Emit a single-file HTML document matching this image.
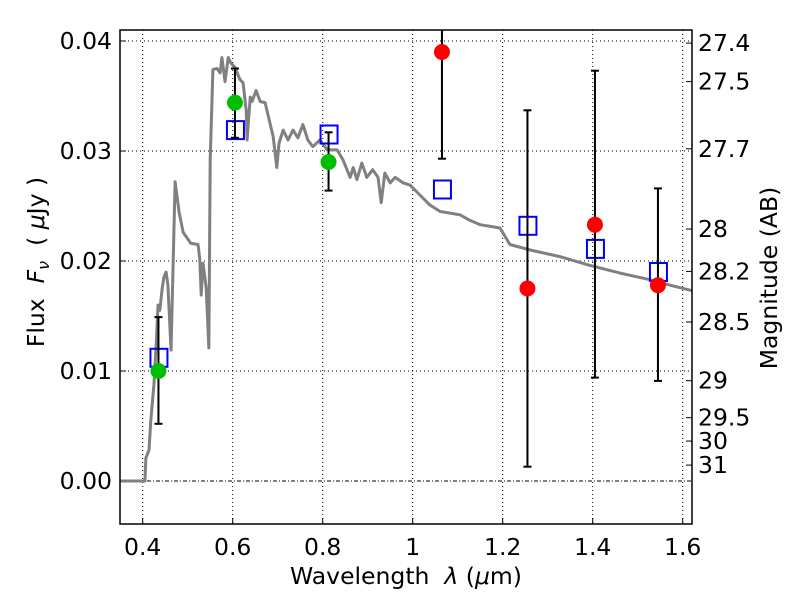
<!DOCTYPE html>
<html><head><meta charset="utf-8"><style>
body{margin:0;background:#fff}
svg{display:block;font-family:"DejaVu Sans","Liberation Sans",sans-serif}
</style></head><body>
<svg id="chart" width="800" height="600" xmlns="http://www.w3.org/2000/svg"></svg>
<script>
const specWave=[0.35,0.405,0.407,0.414,0.418,0.425,0.430,0.434,0.438,0.443,0.447,0.452,0.456,0.463,0.472,0.481,0.490,0.507,0.523,0.527,0.530,0.534,0.541,0.547,0.550,0.556,0.565,0.572,0.576,0.583,0.590,0.596,0.605,0.616,0.623,0.630,0.632,0.639,0.643,0.652,0.661,0.672,0.683,0.690,0.698,0.703,0.712,0.723,0.734,0.745,0.756,0.767,0.778,0.794,0.810,0.832,0.845,0.861,0.868,0.876,0.887,0.898,0.911,0.923,0.930,0.938,0.950,0.961,0.979,0.994,1.016,1.038,1.061,1.105,1.127,1.150,1.194,1.216,1.261,1.327,1.394,1.461,1.527,1.572,1.621];
const specFlux=[0,0,0.0021,0.0028,0.0055,0.0088,0.0124,0.0160,0.0155,0.0174,0.0185,0.0190,0.0178,0.0119,0.0272,0.0244,0.0226,0.0216,0.0215,0.0201,0.0169,0.0198,0.0176,0.0121,0.0292,0.0374,0.0375,0.0371,0.0385,0.0363,0.0385,0.0380,0.0376,0.0365,0.0362,0.0337,0.0310,0.0349,0.0345,0.0355,0.0345,0.0344,0.0325,0.0313,0.0285,0.0307,0.0319,0.0310,0.0319,0.0312,0.0324,0.0310,0.0304,0.0310,0.0301,0.0301,0.0292,0.0276,0.0285,0.0274,0.0289,0.0276,0.0283,0.0276,0.0253,0.0280,0.0271,0.0276,0.0271,0.0269,0.0260,0.0251,0.0245,0.0242,0.0237,0.0233,0.0230,0.0215,0.0210,0.0204,0.0196,0.0189,0.0183,0.0178,0.0173];
const modelWave=[0.435,0.605,0.813,1.065,1.255,1.405,1.545];
const modelFlux=[0.0112,0.0319,0.0315,0.0265,0.0232,0.0211,0.0190];
const greenWave=[0.435,0.605,0.813];
const greenFlux=[0.0100,0.0344,0.0290];
const greenLo=[0.0052,0.0312,0.0264];
const greenHi=[0.0149,0.0375,0.0317];
const redWave=[1.065,1.255,1.405,1.545];
const redFlux=[0.0390,0.0175,0.0233,0.0178];
const redLo=[0.0293,0.0013,0.0094,0.0091];
const redHi=[0.0450,0.0337,0.0373,0.0266];
const xTicks=[0.4,0.6,0.8,1.0,1.2,1.4,1.6];
const xTickLabels=["0.4","0.6","0.8","1","1.2","1.4","1.6"];
const yTicks=[0,0.01,0.02,0.03,0.04];
const yTickLabels=["0.00","0.01","0.02","0.03","0.04"];
const magTicks=[27.4,27.5,27.7,28,28.2,28.5,29,29.5,30,31];
const magLabels=["27.4","27.5","27.7","28","28.2","28.5","29","29.5","30","31"];

const L=120,R=692,T=30,B=524;
const FS=23.5;
const xs=v=>142.7+(v-0.4)*450;
const ys=v=>481-v*11000;
const NS="http://www.w3.org/2000/svg";
const svg=document.getElementById('chart');
function mk(tag,attrs,parent){const e=document.createElementNS(NS,tag);for(const k in attrs)e.setAttribute(k,attrs[k]);(parent||svg).appendChild(e);return e;}

const defs=mk('defs',{});
const cp=mk('clipPath',{id:'clip'},defs);
mk('rect',{x:L,y:T,width:R-L,height:B-T},cp);

xTicks.forEach((t,i)=>{
 const g=mk('line',{x1:xs(t),x2:xs(t),y1:T,y2:B,stroke:'#000','stroke-width':1,'stroke-dasharray':'1,3'});
 
 const tk=mk('line',{x1:xs(t),x2:xs(t),y1:B,y2:B-6,stroke:'#000'});
 
 const tx=mk('text',{x:xs(t),y:B+31,'font-size':FS,'text-anchor':'middle'});tx.textContent=xTickLabels[i];
 
});
yTicks.forEach((t,i)=>{
 const g=mk('line',{x1:L,x2:R,y1:ys(t),y2:ys(t),stroke:'#000','stroke-width':1,'stroke-dasharray':t===0?'4,2,1,2':'1,3'});
 
 const tk=mk('line',{x1:L,x2:L+6,y1:ys(t),y2:ys(t),stroke:'#000'});
 
 const tx=mk('text',{x:L-8,y:ys(t)+8,'font-size':FS,'text-anchor':'end'});tx.textContent=yTickLabels[i];
 
});
magTicks.forEach((m,i)=>{
 const f=Math.pow(10,(23.9-m)/2.5);
 const tk=mk('line',{x1:R,x2:R-6,y1:ys(f),y2:ys(f),stroke:'#000'});
 
 const tx=mk('text',{x:R+6,y:ys(f)+8,'font-size':FS});tx.textContent=magLabels[i];
 
});

const g=mk('g',{'clip-path':'url(#clip)'});
const sp=mk('polyline',{points:specWave.map((w,i)=>xs(w)+','+ys(specFlux[i])).join(' '),fill:'none',stroke:'#808080','stroke-width':3,'stroke-linejoin':'round'},g);


function errbar(x,lo,hi){
 const e=mk('g',{},g);
 
 mk('line',{x1:xs(x),x2:xs(x),y1:ys(lo),y2:ys(hi),stroke:'#000','stroke-width':2},e);
 mk('line',{x1:xs(x)-4,x2:xs(x)+4,y1:ys(lo),y2:ys(lo),stroke:'#000','stroke-width':2},e);
 mk('line',{x1:xs(x)-4,x2:xs(x)+4,y1:ys(hi),y2:ys(hi),stroke:'#000','stroke-width':2},e);
}
modelWave.forEach((w,i)=>{
 const r=mk('rect',{x:xs(w)-8,y:ys(modelFlux[i])-9,width:17,height:18,fill:'none',stroke:'#0000ff','stroke-width':2},g);
 
});
greenWave.forEach((w,i)=>{
 errbar(w,greenLo[i],greenHi[i]);
 const c=mk('circle',{cx:xs(w),cy:ys(greenFlux[i]),r:8,fill:'#00bf00'},g);
 
});
redWave.forEach((w,i)=>{
 errbar(w,redLo[i],redHi[i]);
 const c=mk('circle',{cx:xs(w),cy:ys(redFlux[i]),r:8,fill:'#ff0000'},g);
 
});
const fr=mk('rect',{x:L,y:T,width:R-L,height:B-T,fill:'none',stroke:'#000','stroke-width':1.5});


const xl=mk('text',{x:406,y:584,'font-size':FS,'text-anchor':'middle'});
xl.innerHTML='Wavelength&#160;&#160;<tspan font-style="italic">λ</tspan> (<tspan font-style="italic">μ</tspan>m)';

const yl=mk('text',{x:0,y:0,'font-size':FS,'text-anchor':'middle',transform:'translate(44,262) rotate(-90)'});
yl.innerHTML='Flux&#160;&#160;<tspan font-style="italic">F</tspan><tspan font-style="italic" font-size="16" dy="5">ν</tspan><tspan dy="-5">&#160;&#160;(&#160;</tspan><tspan font-style="italic">μ</tspan>Jy&#160;)';

const rl=mk('text',{x:0,y:0,'font-size':FS,'text-anchor':'middle',transform:'translate(777,278) rotate(-90)'});
rl.textContent='Magnitude (AB)';

</script>
</body></html>
